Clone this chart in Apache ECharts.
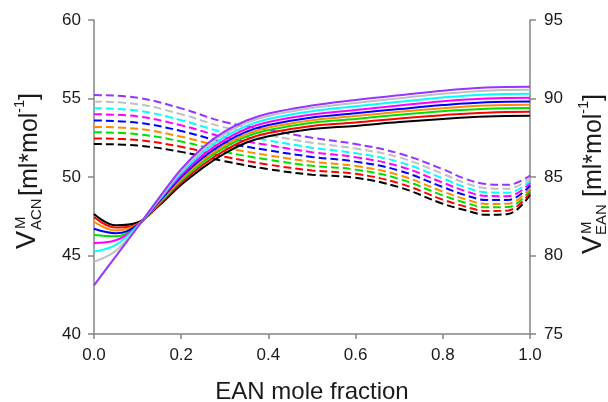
<!DOCTYPE html>
<html>
<head>
<meta charset="utf-8">
<script src="https://cdn.jsdelivr.net/npm/echarts@6/dist/echarts.min.js"></script>
<style>
html,body{margin:0;padding:0;background:#fff;}
#chart{width:608px;height:402px;}
</style>
</head>
<body>
<div id="chart"></div>
<script>
// ---- data ----
var colorNames = ['black','red','green','orange','blue','magenta','cyan','gray','purple'];
var xTicks = ['0.0','0.2','0.4','0.6','0.8','1.0'];
var leftTicks = [40,45,50,55,60];
var rightTicks = [75,80,85,90,95];

// solid curves: V^M_ACN (left axis)
var xSolid = [0,0.05,0.1,0.15,0.2,0.25,0.3,0.35,0.4,0.5,0.6,0.7,0.8,0.9,1.0];
var acnBlack   = [47.65,46.92,47.10,48.20,49.50,50.60,51.50,52.20,52.60,53.05,53.25,53.50,53.70,53.85,53.90];
var acnRed     = [47.45,46.78,47.02,48.27,49.64,50.78,51.69,52.39,52.80,53.25,53.47,53.73,53.94,54.10,54.15];
var acnGreen   = [46.30,46.22,46.92,48.34,49.77,50.95,51.88,52.58,52.99,53.46,53.70,53.96,54.19,54.35,54.40];
var acnOrange  = [47.15,46.60,46.98,48.39,49.88,51.09,52.03,52.73,53.15,53.62,53.88,54.15,54.38,54.55,54.60];
var acnBlue    = [46.70,46.42,46.95,48.45,49.99,51.24,52.19,52.89,53.31,53.79,54.06,54.33,54.58,54.76,54.81];
var acnMagenta = [45.80,45.97,46.90,48.51,50.12,51.41,52.37,53.07,53.50,53.98,54.27,54.55,54.82,55.00,55.05];
var acnCyan    = [45.25,45.68,46.88,48.58,50.26,51.59,52.56,53.26,53.70,54.19,54.50,54.79,55.07,55.26,55.31];
var acnGray    = [44.60,45.30,46.85,48.65,50.39,51.76,52.75,53.45,53.89,54.39,54.72,55.01,55.30,55.50,55.55];
var acnPurple  = [43.10,44.95,46.80,48.70,50.50,51.90,52.90,53.60,54.05,54.55,54.90,55.20,55.50,55.70,55.75];

// dashed curves: V^M_EAN (right axis)
var xDash = [0,0.1,0.2,0.3,0.4,0.5,0.6,0.7,0.8,0.85,0.9,0.95,1.0];
var eanBlack   = [87.10,87.00,86.60,86.00,85.50,85.15,84.95,84.35,83.30,82.90,82.60,82.65,83.85];
var eanRed     = [87.46,87.35,86.92,86.29,85.79,85.42,85.20,84.60,83.56,83.13,82.83,82.87,84.00];
var eanGreen   = [87.85,87.73,87.26,86.60,86.10,85.71,85.47,84.88,83.83,83.38,83.07,83.09,84.15];
var eanOrange  = [88.19,88.07,87.57,86.88,86.38,85.97,85.70,85.12,84.07,83.60,83.28,83.30,84.29];
var eanBlue    = [88.60,88.46,87.93,87.20,86.70,86.28,85.98,85.41,84.36,83.86,83.54,83.54,84.45];
var eanMagenta = [89.00,88.86,88.29,87.53,87.03,86.58,86.26,85.69,84.64,84.12,83.79,83.78,84.61];
var eanCyan    = [89.38,89.23,88.62,87.83,87.33,86.87,86.52,85.96,84.91,84.36,84.02,84.00,84.76];
var eanGray    = [89.80,89.64,89.00,88.16,87.66,87.18,86.81,86.25,85.20,84.63,84.29,84.25,84.93];
var eanPurple  = [90.22,90.05,89.37,88.50,88.00,87.50,87.10,86.50,85.50,84.90,84.55,84.50,85.10];

var xTitle = 'EAN mole fraction';

// ---- styles ----
var palette = {black:'#000000', red:'#ff0000', green:'#00e000', orange:'#ff8c00', blue:'#0000ff',
  magenta:'#ff00ff', cyan:'#00ffff', gray:'#c0c0c0', purple:'#9933ff'};
var FONT = '"Liberation Sans", Arial, sans-serif';
var TXT = '#1a1a1a';
var AX = '#858585';

var acnSets = [acnBlack,acnRed,acnGreen,acnOrange,acnBlue,acnMagenta,acnCyan,acnGray,acnPurple];
var eanSets = [eanBlack,eanRed,eanGreen,eanOrange,eanBlue,eanMagenta,eanCyan,eanGray,eanPurple];

function pairs(xs, ys){ return xs.map(function(x,i){ return [x, ys[i]]; }); }

var series = [];
colorNames.forEach(function(c,i){
  series.push({type:'line', yAxisIndex:1, data:pairs(xDash, eanSets[i]), smooth:0.4, showSymbol:false,
    silent:true, lineStyle:{color:palette[c], width:2, type:[8,4]}, z:2});
});
colorNames.forEach(function(c,i){
  series.push({type:'line', yAxisIndex:0, data:pairs(xSolid, acnSets[i]), smooth:0.4, showSymbol:false,
    silent:true, lineStyle:{color:palette[c], width:2}, z:3});
});

function vtext(t, size, cx, y){
  return {type:'text', x:cx, y:y, rotation:Math.PI/2, silent:true,
    style:{text:t, fontSize:size, fontFamily:FONT, fill:TXT, align:'left', verticalAlign:'middle'}};
}

var graphic = [
  vtext('V', 27, 28, 249), vtext('M', 15, 21, 229), vtext('ACN', 15, 37, 230),
  vtext('[ml*mol', 25, 30, 196), vtext('-1', 15, 20, 113), vtext(']', 25, 30, 100),
  vtext('V', 27, 594, 254), vtext('M', 15, 587, 234), vtext('EAN', 15, 602, 235),
  vtext('[ml*mol', 25, 594, 197), vtext('-1', 15, 584, 114), vtext(']', 25, 594, 101),
  {type:'text', x:312, y:392, silent:true,
    style:{text:xTitle, fontSize:24, fontFamily:FONT, fill:TXT, align:'center', verticalAlign:'middle'}}
];

var chart = echarts.init(document.getElementById('chart'), null, {renderer:'canvas'});
chart.setOption({
  animation:false,
  backgroundColor:'#ffffff',
  grid:{left:94, right:78, top:20, bottom:68, containLabel:false},
  xAxis:{type:'value', min:0, max:1, interval:0.2,
    axisLine:{show:true, lineStyle:{color:AX, width:1.5}},
    axisTick:{show:true, length:5, lineStyle:{color:AX, width:1.5}},
    axisLabel:{margin:13, fontSize:17, fontFamily:FONT, color:TXT,
      formatter:function(v){ var s=v.toFixed(1); return xTicks.indexOf(s)>=0 ? s : ''; }},
    splitLine:{show:false}},
  yAxis:[
    {type:'value', min:leftTicks[0], max:leftTicks[leftTicks.length-1], interval:5, position:'left',
      axisLine:{show:true, lineStyle:{color:AX, width:1.5}},
      axisTick:{show:true, length:6, lineStyle:{color:AX, width:1.5}},
      axisLabel:{margin:13, fontSize:17, fontFamily:FONT, color:TXT},
      splitLine:{show:false}},
    {type:'value', min:rightTicks[0], max:rightTicks[rightTicks.length-1], interval:5, position:'right',
      axisLine:{show:true, lineStyle:{color:AX, width:1.5}},
      axisTick:{show:true, length:6, lineStyle:{color:AX, width:1.5}},
      axisLabel:{margin:14, fontSize:17, fontFamily:FONT, color:TXT},
      splitLine:{show:false}}
  ],
  series:series,
  graphic:graphic
});
</script>
</body>
</html>
